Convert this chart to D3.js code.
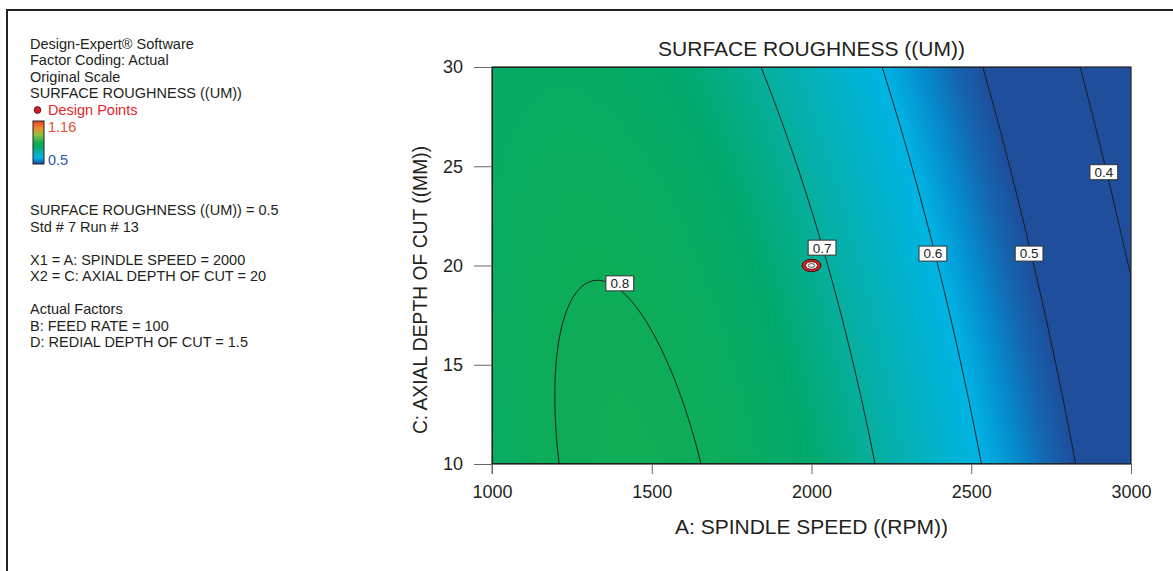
<!DOCTYPE html>
<html>
<head>
<meta charset="utf-8">
<script src="https://cdn.jsdelivr.net/npm/d3@7"></script>
<style>
  body { margin: 0; background: #fff; }
  svg { display: block; font-family: "Liberation Sans", Arial, sans-serif; }
</style>
</head>
<body>
<svg id="chart" width="1173" height="571"></svg>
<script>
// Surface roughness (um), rows = axial depth, cols = spindle speed
const speeds = [1000, 1250, 1500, 1750, 2000, 2250, 2500, 2750, 3000];
const depths = [10, 15, 20, 25, 30];
const roughness = [
  [0.7732, 0.8032, 0.8089, 0.7898, 0.7476, 0.6861, 0.6104, 0.5265, 0.4403],
  [0.7783, 0.8030, 0.8031, 0.7788, 0.7322, 0.6673, 0.5897, 0.5052, 0.4196],
  [0.7784, 0.7976, 0.7924, 0.7631, 0.7126, 0.6450, 0.5661, 0.4816, 0.3973],
  [0.7736, 0.7873, 0.7768, 0.7430, 0.6891, 0.6195, 0.5400, 0.4563, 0.3738],
  [0.7640, 0.7722, 0.7567, 0.7189, 0.6621, 0.5912, 0.5118, 0.4296, 0.3495]
];
const levels = [0.4, 0.5, 0.6, 0.7, 0.8];
const labelSpots = [
  {level: 0.8, speed: 1400, depth: 19.1},
  {level: 0.7, speed: 2033, depth: 20.9},
  {level: 0.6, speed: 2380, depth: 20.6},
  {level: 0.5, speed: 2681, depth: 20.6},
  {level: 0.4, speed: 2915, depth: 24.7}
];
const designPoints = [{speed: 2000, depth: 20}];
const xTicks = [1000, 1500, 2000, 2500, 3000];
const yTicks = [10, 15, 20, 25, 30];
const colorStops = [0.50, 0.53, 0.56, 0.60, 0.65, 0.70, 0.75, 0.80, 0.83, 0.95, 1.05, 1.16];
const colorRange = ["#1f4e9c", "#1466b0", "#0689cc", "#00b4e4", "#02b2c4", "#06af9e", "#01a96c",
                    "#0dac58", "#14ae52", "#8fc23e", "#ee8a2c", "#e4402b"];
const legendTop = ["Design-Expert\u00ae Software", "Factor Coding: Actual", "Original Scale", "SURFACE ROUGHNESS ((UM))"];
const legendInfo = [
  "SURFACE ROUGHNESS ((UM)) = 0.5", "Std # 7 Run # 13", "",
  "X1 = A: SPINDLE SPEED = 2000", "X2 = C: AXIAL DEPTH OF CUT = 20", "",
  "Actual Factors", "B: FEED RATE = 100", "D: REDIAL DEPTH OF CUT = 1.5"
];

const svg = d3.select("#chart");
const plot = {left: 492, right: 1131, top: 67, bottom: 464};
const x = d3.scaleLinear().domain([1000, 3000]).range([plot.left, plot.right]);
const y = d3.scaleLinear().domain([10, 30]).range([plot.bottom, plot.top]);
const color = d3.scaleLinear().domain(colorStops).range(colorRange).clamp(true);
const ink = "#231f20";

// outer frame
svg.append("path").attr("d", "M7,571 V10 H1173").attr("fill", "none")
  .attr("stroke", "#222").attr("stroke-width", 2);

// ---- smooth surface from the grid (bicubic on log values) ----
const lnGrid = roughness.map(r => r.map(Math.log));
function ext(a) {
  const n = a.length;
  return [3*a[0] - 3*a[1] + a[2], ...a, 3*a[n-1] - 3*a[n-2] + a[n-3]];
}
let padded = lnGrid.map(ext);
const topRow = [], botRow = [];
padded[0].forEach((_, j) => {
  const e = ext(padded.map(r => r[j]));
  topRow.push(e[0]); botRow.push(e[e.length - 1]);
});
padded = [topRow, ...padded, botRow];

function cr(p0, p1, p2, p3, t) {
  return 0.5 * (2*p1 + (p2 - p0)*t + (2*p0 - 5*p1 + 4*p2 - p3)*t*t + (3*p1 - p0 - 3*p2 + p3)*t*t*t);
}
function surface(A, C) {
  const fx = (A - speeds[0]) / (speeds[1] - speeds[0]);
  const fy = (C - depths[0]) / (depths[1] - depths[0]);
  const i = Math.max(0, Math.min(Math.floor(fx), speeds.length - 2));
  const j = Math.max(0, Math.min(Math.floor(fy), depths.length - 2));
  const rows = [];
  for (let k = 0; k < 4; k++) {
    const r = padded[j + k];
    rows.push(cr(r[i], r[i+1], r[i+2], r[i+3], fx - i));
  }
  return Math.exp(cr(rows[0], rows[1], rows[2], rows[3], fy - j));
}

const n = 320, m = 200;
const values = new Float64Array(n * m);
for (let jj = 0; jj < m; jj++) {
  const C = 30 - (jj + 0.5) * 20 / m;
  for (let ii = 0; ii < n; ii++) {
    values[jj * n + ii] = surface(1000 + (ii + 0.5) * 2000 / n, C);
  }
}

// heat map
const canvas = document.createElement("canvas");
canvas.width = n; canvas.height = m;
const ctx = canvas.getContext("2d");
const img = ctx.createImageData(n, m);
values.forEach((v, k) => {
  const c = d3.rgb(color(v));
  img.data[k*4] = c.r; img.data[k*4+1] = c.g; img.data[k*4+2] = c.b; img.data[k*4+3] = 255;
});
ctx.putImageData(img, 0, 0);

svg.append("defs").append("clipPath").attr("id", "plotClip")
  .append("rect").attr("x", plot.left).attr("y", plot.top)
  .attr("width", plot.right - plot.left).attr("height", plot.bottom - plot.top);

svg.append("image")
  .attr("href", canvas.toDataURL())
  .attr("x", plot.left).attr("y", plot.top)
  .attr("width", plot.right - plot.left).attr("height", plot.bottom - plot.top)
  .attr("preserveAspectRatio", "none");

// contour lines
const gx = d3.scaleLinear().domain([0, n]).range([x(1000), x(3000)]);
const gy = d3.scaleLinear().domain([0, m]).range([y(30), y(10)]);
const path = d3.geoPath(d3.geoTransform({
  point: function(px, py) { this.stream.point(gx(px), gy(py)); }
}));
const contours = d3.contours().size([n, m]).thresholds(levels)(values);
svg.append("g").attr("clip-path", "url(#plotClip)")
  .selectAll("path").data(contours).join("path")
  .attr("d", path).attr("fill", "none")
  .attr("stroke", "#1a1a1a").attr("stroke-width", 1);

// plot border
svg.append("rect")
  .attr("x", plot.left).attr("y", plot.top)
  .attr("width", plot.right - plot.left).attr("height", plot.bottom - plot.top)
  .attr("fill", "none").attr("stroke", "#222").attr("stroke-width", 1.2);

// contour labels
const lab = svg.append("g").selectAll("g").data(labelSpots).join("g")
  .attr("transform", d => `translate(${x(d.speed)},${y(d.depth)})`);
lab.append("rect").attr("fill", "#fff").attr("stroke", "#333").attr("stroke-width", 1);
lab.append("text").attr("text-anchor", "middle").attr("dy", "0.36em")
  .attr("font-size", 13.5).attr("fill", ink).text(d => d.level);
lab.each(function() {
  const w = d3.select(this).select("text").node().getComputedTextLength() + 9;
  d3.select(this).select("rect").attr("x", -w/2).attr("y", -7.5).attr("width", w).attr("height", 15);
});

// design points
const dp = svg.append("g").selectAll("g").data(designPoints).join("g")
  .attr("transform", d => `translate(${x(d.speed)},${y(d.depth)})`);
dp.append("ellipse").attr("rx", 9.5).attr("ry", 6.2).attr("fill", "#d71e23").attr("stroke", "#3b0d0d");
dp.append("ellipse").attr("rx", 6).attr("ry", 3.8).attr("fill", "#fff").attr("stroke", "#3b0d0d").attr("stroke-width", 0.9);
dp.append("ellipse").attr("rx", 3.2).attr("ry", 1.9).attr("fill", "#fff").attr("stroke", "#3b0d0d").attr("stroke-width", 0.8);

// axes
const xAxis = svg.append("g").attr("transform", `translate(0,${plot.bottom})`)
  .call(d3.axisBottom(x).tickValues(xTicks).tickSize(10).tickPadding(11).tickFormat(d3.format("d")));
const yAxis = svg.append("g").attr("transform", `translate(${plot.left},0)`)
  .call(d3.axisLeft(y).tickValues(yTicks).tickSize(18).tickPadding(11).tickFormat(d3.format("d")));
[xAxis, yAxis].forEach(a => {
  a.select(".domain").remove();
  a.selectAll(".tick line").attr("stroke", "#666");
  a.selectAll(".tick text").attr("font-size", 18).attr("fill", ink)
    .attr("font-family", "Liberation Sans, Arial, sans-serif");
});
svg.append("line").attr("x1", plot.left).attr("x2", plot.left)
  .attr("y1", plot.bottom).attr("y2", plot.bottom + 10).attr("stroke", "#666");

svg.append("text").attr("x", (plot.left + plot.right) / 2).attr("y", 56)
  .attr("text-anchor", "middle").attr("font-size", 21).attr("fill", ink)
  .text("SURFACE ROUGHNESS ((UM))");
svg.append("text").attr("x", (plot.left + plot.right) / 2).attr("y", 534)
  .attr("text-anchor", "middle").attr("font-size", 21).attr("fill", ink)
  .text("A: SPINDLE SPEED ((RPM))");
svg.append("text").attr("transform", "translate(427,290) rotate(-90)")
  .attr("text-anchor", "middle").attr("font-size", 19.3).attr("fill", ink)
  .text("C: AXIAL DEPTH OF CUT ((MM))");

// left legend block
const leg = svg.append("g").attr("font-size", 14.5).attr("fill", ink);
leg.selectAll("text.top").data(legendTop).join("text").attr("class", "top")
  .attr("x", 30).attr("y", (d, i) => 48.5 + i * 16.6).text(d => d);
leg.append("circle").attr("cx", 37.5).attr("cy", 110).attr("r", 3.4)
  .attr("fill", "#d71e23").attr("stroke", "#3b0d0d").attr("stroke-width", 0.8);
leg.append("text").attr("x", 48).attr("y", 114.5).attr("fill", "#e3262b").text("Design Points");

const grad = svg.select("defs").append("linearGradient").attr("id", "scaleGrad")
  .attr("x1", 0).attr("y1", 1).attr("x2", 0).attr("y2", 0);
grad.selectAll("stop").data(colorStops).join("stop")
  .attr("offset", d => (d - 0.5) / (1.16 - 0.5))
  .attr("stop-color", d => color(d));
leg.append("rect").attr("x", 33).attr("y", 121).attr("width", 11).attr("height", 43)
  .attr("fill", "url(#scaleGrad)").attr("stroke", "#222").attr("stroke-width", 1);
leg.append("text").attr("x", 48).attr("y", 132).attr("fill", "#e84a2a").text("1.16");
leg.append("text").attr("x", 48).attr("y", 165).attr("fill", "#2a5aa8").text("0.5");

leg.selectAll("text.info").data(legendInfo).join("text").attr("class", "info")
  .attr("x", 30).attr("y", (d, i) => 215 + i * 16.5).text(d => d);
</script>
</body>
</html>
